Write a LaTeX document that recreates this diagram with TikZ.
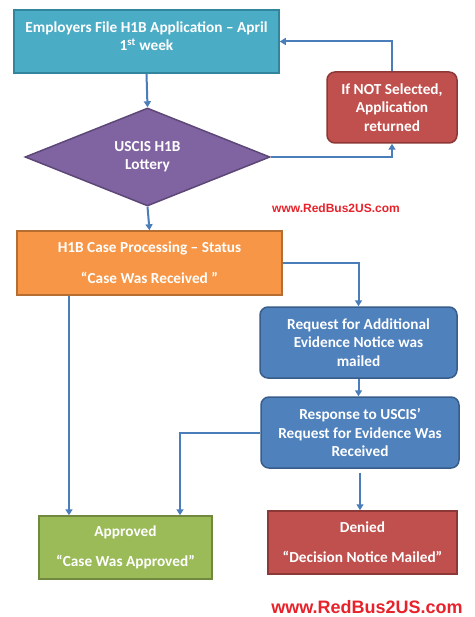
\documentclass[tikz,border=0pt]{standalone}
\usepackage{fontspec}
\setmainfont{Carlito}
\newfontfamily\wmfont{Liberation Sans}
\usetikzlibrary{shapes.geometric,arrows.meta}
\definecolor{tealF}{HTML}{4BACC6}\definecolor{tealD}{HTML}{31859C}
\definecolor{redF}{HTML}{C0504D}\definecolor{redD}{HTML}{8C3836}
\definecolor{purF}{HTML}{8064A2}\definecolor{purD}{HTML}{5C4776}
\definecolor{oraF}{HTML}{F79646}\definecolor{oraD}{HTML}{B66D31}
\definecolor{bluF}{HTML}{4F81BD}\definecolor{bluD}{HTML}{385D8A}
\definecolor{grnF}{HTML}{9BBB59}\definecolor{grnD}{HTML}{71893F}
\definecolor{arrC}{HTML}{4A7EBB}
\definecolor{wmC}{HTML}{E8222A}
\begin{document}
\begin{tikzpicture}[x=1pt,y=-1pt,
  shp/.style={line width=1.5pt, inner sep=0pt, text=white, align=center,
     font=\bfseries\fontsize{15.3}{18.3}\selectfont},
  rbox/.style={shp, rectangle},
  rrbox/.style={shp, rectangle, rounded corners=8pt},
  txt/.style={text=white, align=center, inner sep=0pt,
     font=\bfseries\fontsize{15.3}{18.3}\selectfont},
  arr/.style={draw=arrC, line width=2pt, -{Triangle[length=6pt,width=7pt]}},
  wm/.style={text=wmC, inner sep=0pt, font=\wmfont\bfseries}]
\useasboundingbox[fill=white] (0,0) rectangle (474,617);

\node[rbox, fill=tealF, draw=tealD, minimum width=265pt, minimum height=63pt] (top) at (146.5,41.5) {};
\node[txt] (topT) at (146.5,36) {Employers File H1B Application -- April\\1\textsuperscript{st} week};

\node[rrbox, fill=redF, draw=redD, minimum width=130pt, minimum height=71pt] (notsel) at (392,107.5)
  {If NOT Selected,\\Application\\returned};

\node[shp, diamond, aspect=2.5, fill=purF, draw=purD, minimum width=245pt, minimum height=98pt] (lot) at (147.5,157)
  {\fontsize{15.3}{20}\selectfont USCIS H1B\\Lottery};

\node[wm, font=\wmfont\bfseries\fontsize{12}{13}\selectfont] (wm1) at (336,208) {www.RedBus2US.com};

\node[rbox, fill=oraF, draw=oraD, minimum width=265pt, minimum height=64pt] (proc) at (149.5,263)
  {H1B Case Processing -- Status\\[13pt]``Case Was Received ''};

\node[rrbox, fill=bluF, draw=bluD, minimum width=197pt, minimum height=71pt] (rfe) at (358.5,342.5)
  {Request for Additional\\Evidence Notice was\\mailed};

\node[rrbox, fill=bluF, draw=bluD, minimum width=198pt, minimum height=71pt] (resp) at (360,432.5)
  {Response to USCIS'\\Request for Evidence Was\\Received};

\node[rbox, fill=grnF, draw=grnD, minimum width=173pt, minimum height=63pt] (appr) at (125.5,547.5)
  {Approved\\[12pt]``Case Was Approved''};

\node[rbox, fill=redF, draw=redD, minimum width=189pt, minimum height=63pt] (den) at (362.5,542.5)
  {Denied\\[12pt]``Decision Notice Mailed''};

\node[wm, font=\wmfont\bfseries\fontsize{18}{20}\selectfont] (wm2) at (367,607) {www.RedBus2US.com};

\coordinate (a1) at ([xshift=-56.5pt]appr.north);
\coordinate (a2) at ([xshift=54.5pt]appr.north);

\draw[arr] (top.south) -- (lot.north);
\draw[arr] (lot.east) -| (notsel.south);
\draw[arr] (notsel.north) |- (top.east);
\draw[arr] (lot.south) -- (proc.north);
\draw[arr] (proc.east) -| (rfe.north);
\draw[arr] (rfe.south) -- (rfe.south |- resp.north);
\draw[arr] (resp.west) -| (a2);
\draw[arr] (proc.south -| a1) -- (a1);
\draw[arr] ([yshift=-4pt]resp.south) -- (resp.south |- den.north);
\end{tikzpicture}
\end{document}
